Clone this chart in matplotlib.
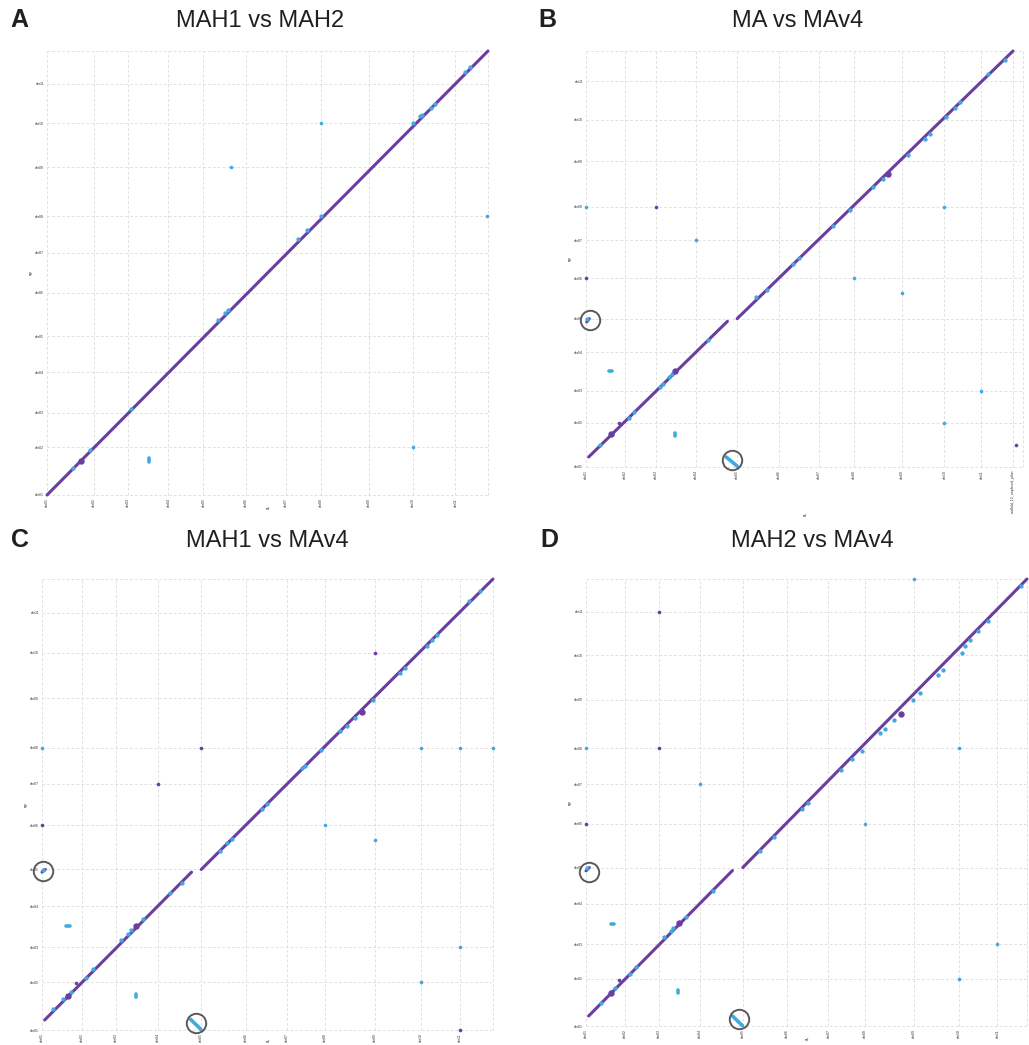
import matplotlib
matplotlib.use("Agg")
import matplotlib.pyplot as plt

plt.rcParams["font.family"] = ["Liberation Sans", "DejaVu Sans"]

PURPLE = "#6a3ea1"
BLUE = "#3fa9e0"
GRID = "#d4d4d4"
RING = "#5a5a5a"

CHR11 = [f"chr{i:02d}" for i in range(1, 12)]

# ---- A: MAH1 vs MAH2 (positions in Mb, cumulative chromosome starts) ----
A_BX = [0, 42.3, 72.9, 109.5, 141.0, 179.7, 215.1, 246.9, 290.1, 330.0, 368.1, 397.5]
A_BY = [0, 42.9, 74.1, 110.4, 142.8, 182.1, 218.4, 251.1, 295.2, 334.8, 370.5, 399.9]
A_XLAB = CHR11
A_YLAB = CHR11
A_FWD = [(0, 0, 397.5, 399.9)]
A_REV = [(91.5, 30.0, 91.5, 33.0)]
A_INV_X = [23.4, 38.4, 75.9, 154.5, 160.5, 162.9, 225.9, 234.0, 246.9, 330.0, 336.0, 338.4, 346.5, 349.5, 376.5, 381.6]
A_INV_Y = [24.0, 40.5, 77.1, 157.5, 164.1, 166.5, 230.7, 238.5, 251.7, 335.1, 341.1, 342.0, 348.9, 351.9, 381.0, 385.5]
A_BIG_X = [30.9]
A_BIG_Y = [30.6]
A_OFF_FWD_X, A_OFF_FWD_Y = [], []
A_OFF_REV_X = [165.6, 246.9, 396.9, 330.0]
A_OFF_REV_Y = [295.5, 334.8, 251.1, 42.9]
A_RING_X, A_RING_Y = [], []

# ---- B: MA vs MAv4 ----
B_BX = [0, 34.8, 62.7, 99.0, 136.2, 174.3, 209.7, 241.8, 284.4, 323.1, 356.4, 384.9, 393.9]
B_BY = [0, 39.9, 68.7, 103.2, 133.5, 169.8, 204.0, 234.3, 275.1, 312.6, 347.1, 374.4]
B_XLAB = CHR11 + ["scaffold_12_unplaced_pilon"]
B_YLAB = CHR11
B_FWD = [(2.4, 9.0, 127.5, 131.1), (136.2, 133.5, 384.9, 374.4), (0.6, 130.5, 3.0, 133.5)]
B_REV = [(126.3, 9.0, 136.5, 0.6), (20.4, 86.4, 23.4, 86.4), (79.8, 28.0, 79.8, 30.8)]
B_INV_X = [12.3, 23.4, 38.4, 43.5, 66.9, 69.3, 75.0, 77.4, 110.4, 153.3, 162.9, 186.9, 192.3,
           222.3, 237.9, 258.9, 267.9, 289.8, 305.4, 309.9, 324.9, 332.4, 336.9, 362.4, 377.4, 1.2]
B_INV_Y = [19.5, 30.0, 44.4, 49.5, 72.0, 75.0, 81.0, 83.4, 114.6, 153.0, 159.6, 183.0, 188.1,
           216.6, 231.0, 252.0, 258.9, 280.5, 295.5, 300.0, 315.0, 323.4, 328.5, 353.4, 366.6, 132.9]
B_BIG_X = [22.5, 80.4, 272.4]
B_BIG_Y = [29.4, 86.4, 263.4]
B_OFF_FWD_X = [29.4, 62.7, 0.0, 387.9]
B_OFF_FWD_Y = [39.6, 234.3, 169.8, 19.5]
B_OFF_REV_X = [0.0, 99.0, 241.8, 284.4, 323.1, 356.4, 323.1]
B_OFF_REV_Y = [234.3, 204.0, 169.8, 156.9, 234.3, 68.7, 39.9]
B_RING_X = [3.6, 131.7]
B_RING_Y = [132.0, 6.6]

# ---- C: MAH1 vs MAv4 ----
C_BX = [0, 36.0, 66.3, 104.4, 143.1, 183.6, 220.5, 254.4, 299.1, 340.2, 375.3, 405.3]
C_BY = [0, 43.2, 74.7, 111.6, 144.6, 184.5, 222.0, 254.4, 298.8, 339.9, 375.9, 406.2]
C_XLAB = CHR11
C_YLAB = CHR11
C_FWD = [(2.4, 9.0, 134.4, 142.2), (143.1, 144.6, 405.3, 406.2), (0.0, 142.2, 3.0, 144.6)]
C_REV = [(133.5, 9.6, 142.8, 0.6), (21.9, 93.3, 24.9, 93.3), (84.3, 29.7, 84.3, 32.7)]
C_INV_X = [9.9, 18.9, 26.4, 39.9, 45.9, 71.4, 77.4, 80.4, 90.9, 114.9, 125.4, 159.9, 165.9, 170.4,
           197.4, 201.9, 233.4, 236.4, 250.5, 267.9, 273.9, 281.4, 297.9, 321.9, 326.4, 345.9,
           350.4, 354.9, 383.4, 393.9, 1.2]
C_INV_Y = [19.2, 27.6, 34.2, 47.1, 54.6, 81.0, 86.1, 89.7, 99.6, 123.0, 132.6, 161.1, 168.6, 172.2,
           199.2, 204.0, 236.1, 238.2, 252.0, 269.1, 273.6, 281.1, 297.6, 321.6, 326.1, 346.2,
           351.6, 356.1, 386.1, 395.7, 144.0]
C_BIG_X = [23.7, 84.9, 287.4]
C_BIG_Y = [30.6, 93.6, 286.2]
C_OFF_FWD_X = [30.9, 143.1, 104.4, 0.0, 299.1, 375.3]
C_OFF_FWD_Y = [42.6, 254.4, 222.0, 184.5, 339.9, 0.0]
C_OFF_REV_X = [0.0, 254.4, 299.1, 340.2, 375.3, 405.3, 375.3, 340.2]
C_OFF_REV_Y = [254.4, 184.5, 170.7, 254.4, 254.4, 254.4, 74.7, 43.2]
C_RING_X = [1.2, 138.6]
C_RING_Y = [143.1, 6.0]

# ---- D: MAH2 vs MAv4 ----
D_BX = [0, 35.4, 65.7, 102.9, 141.6, 181.8, 219.0, 252.3, 296.1, 337.2, 371.7, 398.4]
D_BY = [0, 42.3, 73.5, 110.1, 142.5, 181.8, 217.5, 249.9, 293.4, 333.6, 372.6, 402.0]
D_XLAB = CHR11
D_YLAB = CHR11
D_FWD = [(2.4, 9.0, 132.3, 139.8), (141.6, 142.5, 398.4, 402.0), (0.0, 139.5, 3.0, 142.5)]
D_REV = [(132.3, 9.0, 141.3, 0.3), (22.2, 91.8, 25.2, 91.8), (83.4, 29.4, 83.4, 32.4)]
D_INV_X = [13.8, 22.8, 25.8, 39.3, 45.3, 70.8, 76.8, 78.9, 90.3, 114.3, 156.9, 169.8, 194.7,
           200.7, 230.7, 240.3, 249.3, 265.8, 270.3, 277.8, 295.8, 301.8, 318.3, 322.8, 339.3,
           342.3, 346.8, 354.3, 363.3, 393.3, 1.2]
D_INV_Y = [21.0, 30.9, 33.9, 46.8, 53.4, 79.8, 85.5, 87.9, 97.8, 121.8, 157.5, 170.4, 195.0,
           200.4, 230.4, 240.0, 246.9, 263.4, 267.0, 275.4, 293.4, 299.4, 315.9, 319.8, 335.4,
           341.4, 347.4, 354.9, 363.9, 395.4, 142.2]
D_BIG_X = [22.8, 84.3, 284.7]
D_BIG_Y = [30.0, 92.4, 280.8]
D_OFF_FWD_X = [29.7, 65.7, 65.7, 0.0]
D_OFF_FWD_Y = [41.4, 372.6, 249.9, 181.8]
D_OFF_REV_X = [296.1, 0.0, 102.9, 252.3, 337.2, 371.7, 337.2]
D_OFF_REV_Y = [402.0, 249.9, 217.5, 181.8, 249.9, 73.5, 42.3]
D_RING_X = [2.7, 138.0]
D_RING_Y = [138.9, 6.0]


def draw_panel(ax, bx, by, xlab, ylab, fwd, rev, inv_x, inv_y, big_x, big_y,
               off_fwd_x, off_fwd_y, off_rev_x, off_rev_y, ring_x, ring_y):
    ax.set_xlim(bx[0], bx[-1])
    ax.set_ylim(by[0], by[-1])
    for s in ax.spines.values():
        s.set_visible(False)
    for b in bx:
        ax.axvline(b, color=GRID, lw=0.5, ls=(0, (4, 3)), zorder=0, clip_on=False)
    for b in by:
        ax.axhline(b, color=GRID, lw=0.5, ls=(0, (4, 3)), zorder=0, clip_on=False)
    ax.set_xticks(bx[:len(xlab)])
    ax.set_xticklabels(xlab, rotation=90, fontsize=2.5, color="#333333")
    ax.set_yticks(by[:len(ylab)])
    ax.set_yticklabels(ylab, fontsize=2.5, color="#333333")
    ax.tick_params(length=0, pad=2)
    ax.set_xlabel("ref", fontsize=2.5, labelpad=0.5)
    ax.set_ylabel("qry", fontsize=2.5, labelpad=2)

    for x0, y0, x1, y1 in fwd:
        ax.plot([x0, x1], [y0, y1], color=PURPLE, lw=2.2, solid_capstyle="round",
                zorder=2, clip_on=False)
    for x0, y0, x1, y1 in rev:
        ax.plot([x0, x1], [y0, y1], color=BLUE, lw=2.6, solid_capstyle="round",
                zorder=3, clip_on=False)
    ax.plot(inv_x, inv_y, "o", color=BLUE, ms=3.1, mew=0, zorder=3, clip_on=False)
    ax.plot(big_x, big_y, "o", color=PURPLE, ms=4.6, mew=0, zorder=4, clip_on=False)
    ax.plot(off_fwd_x, off_fwd_y, "o", color=PURPLE, ms=2.6, mew=0, zorder=4, clip_on=False)
    ax.plot(off_rev_x, off_rev_y, "o", color=BLUE, ms=2.6, mew=0, zorder=4, clip_on=False)
    ax.plot(ring_x, ring_y, "o", mfc="none", mec=RING, ms=14, mew=1.4, zorder=5, clip_on=False)


W, H = 1029, 1045
fig = plt.figure(figsize=(W / 100, H / 100), dpi=100)

def px_axes(left, top, right, bottom):
    return fig.add_axes([left / W, 1 - bottom / H, (right - left) / W, (bottom - top) / H])

ax_a = px_axes(47, 51, 488, 495)
ax_b = px_axes(586, 51, 1023, 467)
ax_c = px_axes(42, 579, 493, 1030)
ax_d = px_axes(586, 579, 1027, 1026)

draw_panel(ax_a, A_BX, A_BY, A_XLAB, A_YLAB, A_FWD, A_REV, A_INV_X, A_INV_Y, A_BIG_X, A_BIG_Y,
           A_OFF_FWD_X, A_OFF_FWD_Y, A_OFF_REV_X, A_OFF_REV_Y, A_RING_X, A_RING_Y)
draw_panel(ax_b, B_BX, B_BY, B_XLAB, B_YLAB, B_FWD, B_REV, B_INV_X, B_INV_Y, B_BIG_X, B_BIG_Y,
           B_OFF_FWD_X, B_OFF_FWD_Y, B_OFF_REV_X, B_OFF_REV_Y, B_RING_X, B_RING_Y)
draw_panel(ax_c, C_BX, C_BY, C_XLAB, C_YLAB, C_FWD, C_REV, C_INV_X, C_INV_Y, C_BIG_X, C_BIG_Y,
           C_OFF_FWD_X, C_OFF_FWD_Y, C_OFF_REV_X, C_OFF_REV_Y, C_RING_X, C_RING_Y)
draw_panel(ax_d, D_BX, D_BY, D_XLAB, D_YLAB, D_FWD, D_REV, D_INV_X, D_INV_Y, D_BIG_X, D_BIG_Y,
           D_OFF_FWD_X, D_OFF_FWD_Y, D_OFF_REV_X, D_OFF_REV_Y, D_RING_X, D_RING_Y)
# the x tick labels of C run to the bottom edge, keep its axis title just inside
ax_c.xaxis.set_label_coords(0.5, -0.022)

# panel titles and letters
TITLES = ["MAH1 vs MAH2", "MA vs MAv4", "MAH1 vs MAv4", "MAH2 vs MAv4"]
TITLE_POS = [(260, 21), (798, 21), (267, 541), (812, 541)]
LETTERS = ["A", "B", "C", "D"]
LETTER_POS = [(10, 20), (538, 20), (11, 540), (540, 540)]
for t, (x, y) in zip(TITLES, TITLE_POS):
    fig.text(x / W, 1 - y / H, t, ha="center", va="center", fontsize=17, color="#231f20")
for t, (x, y) in zip(LETTERS, LETTER_POS):
    fig.text(x / W, 1 - y / H, t, ha="left", va="center", fontsize=18,
             fontweight="bold", color="#231f20")

fig.savefig("out.png", dpi=100, facecolor="white")
